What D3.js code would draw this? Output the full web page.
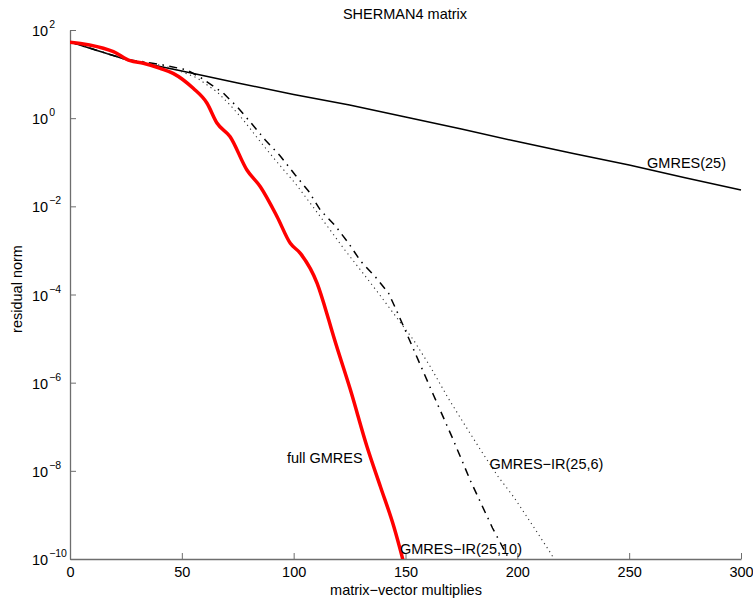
<!DOCTYPE html>
<html>
<head>
<meta charset="utf-8">
<script src="https://cdn.jsdelivr.net/npm/d3@7/dist/d3.min.js"></script>
<style>
  html, body { margin: 0; padding: 0; background: #fff; }
  svg { display: block; font-family: "Liberation Sans", Arial, sans-serif; }
</style>
</head>
<body>
<svg id="chart" width="753" height="599"></svg>
<script>
// ---- data (matrix-vector multiplies, residual norm) ----
const xTicks = [0, 50, 100, 150, 200, 250, 300];
const yTickExps = [2, 0, -2, -4, -6, -8, -10];

const gmres25X = [0, 10, 25, 50, 75, 100, 125, 150, 175, 200, 225, 250, 275, 300];
const gmres25Y = [53.5, 37.2, 21.4, 11.7, 6.31, 3.44, 2.0, 1.06, 0.568, 0.295, 0.158, 0.087, 0.0447, 0.0234];

const fullX = [0, 14.9, 19.4, 26.9, 32.8, 40.3, 46.1, 55.1, 61.2, 65.7, 71.6, 79.1, 85.1, 92.6, 98.5, 103.0, 110.5, 115.7, 117.9, 125.4, 132.8, 138.8, 144.8, 148.5, 150];
const fullY = [52.6, 38.5, 32.2, 20.1, 17.6, 13.5, 10.4, 4.75, 2.21, 0.776, 0.379, 0.0667, 0.0279, 5.82e-3, 1.45e-3, 8.59e-4, 1.79e-4, 2.64e-5, 1.10e-5, 6.81e-7, 3.52e-8, 4.36e-9, 5.40e-10, 1.12e-10, 5.6e-11];

const ir10X = [0, 25.1, 32.7, 41.6, 52.4, 58.7, 68.5, 74.8, 80.6, 87.3, 94.0, 100.7, 106.6, 111.9, 118.7, 124.5, 129.9, 136.6, 142.4, 146.9, 154.5, 162.5, 171.0, 179.1, 188.9, 197.0];
const ir10Y = [53.5, 21.4, 19.1, 16.1, 12.4, 8.15, 3.72, 1.79, 0.818, 0.320, 0.139, 0.0514, 0.0223, 8.26e-3, 3.58e-3, 1.47e-3, 5.75e-4, 2.49e-4, 1.08e-4, 3.43e-5, 4.47e-6, 5.25e-7, 5.55e-8, 5.87e-9, 5.05e-10, 8.5e-11];

const ir6X = [0, 25.1, 37.2, 47.0, 56.9, 65.8, 71.6, 77.5, 85.1, 91.8, 100.7, 109.7, 117.3, 122.2, 129.9, 137.5, 144.2, 153.6, 161.2, 168.8, 176.0, 183.6, 191.2, 198.4, 207.3, 214.9, 217.2];
const ir6Y = [53.5, 21.4, 17.4, 13.0, 8.15, 3.92, 1.99, 0.908, 0.292, 0.112, 0.0333, 8.26e-3, 2.48e-3, 1.13e-3, 3.59e-4, 1.14e-4, 4.0e-5, 9.27e-6, 2.26e-6, 4.72e-7, 1.21e-7, 2.96e-8, 7.62e-9, 2.55e-9, 5.31e-10, 1.36e-10, 8.5e-11];

const labels = [
  {text: "GMRES(25)", x: 258, y: 0.075},
  {text: "full GMRES", x: 97, y: 1.5e-8},
  {text: "GMRES\u2212IR(25,6)", x: 187.5, y: 1.1e-8},
  {text: "GMRES\u2212IR(25,10)", x: 147.5, y: 1.3e-10}
];

// ---- layout ----
const svg = d3.select("#chart");
const mLeft = 70, mRight = 741, mTop = 30, mBottom = 559;
const x = d3.scaleLinear().domain([0, 300]).range([mLeft, mRight]);
const y = d3.scaleLog().domain([1e-10, 1e2]).range([mBottom, mTop]);
const axisColor = "#6e6e6e";
const fs = 14.5;

svg.append("defs").append("clipPath").attr("id", "clip")
  .append("rect").attr("x", mLeft).attr("y", mTop - 5).attr("width", mRight - mLeft + 5).attr("height", mBottom - mTop + 5);

// axes
const xAxis = d3.axisBottom(x).tickValues(xTicks).tickSizeInner(-6).tickSizeOuter(0).tickFormat(d3.format("d"));
const gx = svg.append("g").attr("transform", `translate(0,${mBottom})`).call(xAxis);
gx.select(".domain").attr("stroke", axisColor).attr("stroke-width", 1.3);
gx.selectAll(".tick line").attr("stroke", axisColor);
gx.selectAll(".tick text").attr("font-size", fs).attr("fill", "#000").attr("dy", 0).attr("y", 18)
  .attr("font-family", "Liberation Sans, Arial, sans-serif");

const yAxis = d3.axisLeft(y).tickValues(yTickExps.map(e => Math.pow(10, e))).tickSizeInner(-6).tickSizeOuter(0).tickFormat("");
const gy = svg.append("g").attr("transform", `translate(${mLeft},0)`).call(yAxis);
gy.select(".domain").attr("stroke", axisColor).attr("stroke-width", 1.3);
gy.selectAll(".tick line").attr("stroke", axisColor);

// y tick labels with superscripts
yTickExps.forEach(e => {
  const t = svg.append("text").attr("x", 32).attr("y", y(Math.pow(10, e)) + 6)
    .attr("font-size", fs).attr("fill", "#000");
  t.append("tspan").text("10");
  t.append("tspan").attr("dy", -8).attr("font-size", 10.5).attr("dx", 1)
    .text(e < 0 ? "\u2212" + Math.abs(e) : String(e));
});

// lines
const plot = svg.append("g").attr("clip-path", "url(#clip)");
function series(xs, ys) { return xs.map((v, i) => [v, ys[i]]); }
const line = d3.line().x(d => x(d[0])).y(d => y(d[1]));
const smooth = d3.line().x(d => x(d[0])).y(d => y(d[1])).curve(d3.curveMonotoneX);

plot.append("path").datum(series(gmres25X, gmres25Y)).attr("d", line)
  .attr("fill", "none").attr("stroke", "#000").attr("stroke-width", 1.5);
plot.append("path").datum(series(ir6X, ir6Y)).attr("d", line)
  .attr("fill", "none").attr("stroke", "#333").attr("stroke-width", 1.1).attr("stroke-dasharray", "1.2,3.6");
plot.append("path").datum(series(ir10X, ir10Y)).attr("d", line)
  .attr("fill", "none").attr("stroke", "#000").attr("stroke-width", 1.5).attr("stroke-dasharray", "8,5.5,1.5,5.5");
plot.append("path").datum(series(fullX, fullY)).attr("d", smooth)
  .attr("fill", "none").attr("stroke", "#ff0000").attr("stroke-width", 3.5).attr("stroke-linejoin", "round");

// labels
labels.forEach(l => {
  svg.append("text").attr("x", x(l.x)).attr("y", y(l.y)).attr("font-size", fs).attr("fill", "#000").text(l.text);
});

// title and axis titles
svg.append("text").attr("x", 405).attr("y", 19).attr("text-anchor", "middle").attr("font-size", fs).text("SHERMAN4 matrix");
svg.append("text").attr("x", 406).attr("y", 595).attr("text-anchor", "middle").attr("font-size", fs).text("matrix\u2212vector multiplies");
svg.append("text").attr("transform", "translate(22,289) rotate(-90)").attr("text-anchor", "middle").attr("font-size", fs).text("residual norm");
</script>
</body>
</html>
